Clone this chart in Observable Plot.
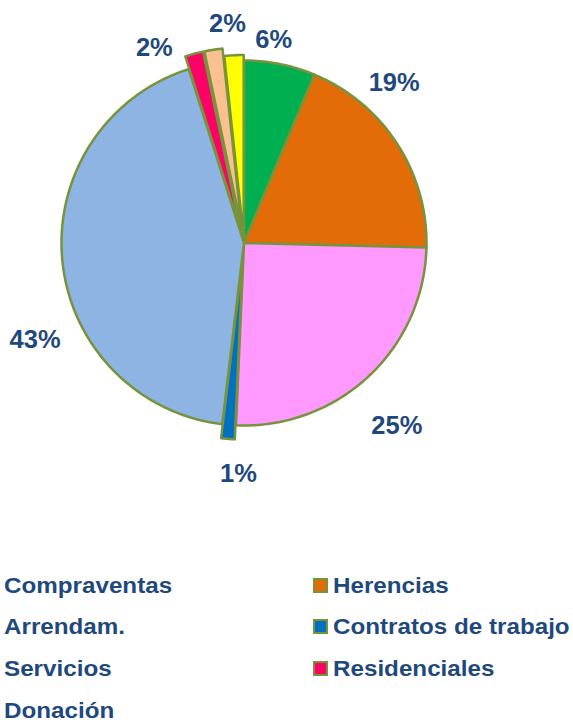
<!DOCTYPE html>
<html>
<head>
<meta charset="utf-8">
<script src="https://cdn.jsdelivr.net/npm/d3@7"></script>
<script src="https://cdn.jsdelivr.net/npm/@observablehq/plot@0.6"></script>
<style>
  html, body { margin: 0; padding: 0; background: #ffffff; }
  #chart svg { display: block; }
  #legend {
    position: relative;
    padding-top: 4.5px;
    font-family: "Liberation Sans", Arial, sans-serif;
    font-weight: bold;
    font-size: 22px;
    color: #1F497D;
  }
  .row { position: relative; height: 41.8px; line-height: 41.8px; white-space: nowrap; }
  .cell { position: absolute; top: 0; }
  .txt { display: inline-block; transform: scaleX(1.1); transform-origin: 0 50%; }
  .mk { display: inline-block; width: 11px; height: 11px; border: 2px solid #77933C; margin-right: 5px; vertical-align: baseline; }
</style>
</head>
<body>
<div id="chart"></div>
<div id="legend"></div>
<script>
// ---- data ----
const categories = ["Compraventas", "Herencias", "Arrendam.", "Contratos de trabajo", "Servicios", "Residenciales", "Donación", "Otros"];
const values = [6.3, 19.1, 25.3, 1.2, 43.2, 1.6, 1.6, 1.7];
const colors = ["#00B050", "#E36C09", "#FF99FF", "#0070C0", "#8EB4E3", "#FF0066", "#FAC090", "#FFFF00"];
const inLegend = [true, true, true, true, true, true, true, false];
const showLabel = [true, true, true, true, true, true, true, false];

// ---- layout ----
const W = 573, H = 560;
const CX = 243.5, CY = 242.5, R = 182.5;     // pie centre / radius in px
const explode = [0, 0, 0, 0.077, 0, 0.072, 0.072, 0.03];
const labelAngle = [8.3, 42.9, 139.9, 181.4, 245.3, 335.4, 355.7, 0];
const labelRadius = [1.131, 1.209, 1.300, 1.261, 1.260, 1.180, 1.212, 0];
const textColor = "#1F497D";
const edge = "#77933C";

const total = d3.sum(values);
let cum = 0;
const slices = values.map((v, i) => {
  const a0 = cum / total * 2 * Math.PI;
  cum += v;
  const a1 = cum / total * 2 * Math.PI;
  return {i, cat: categories[i], v, a0, a1};
});

// polygon points of each slice (unit-radius data space, y up)
const pts = [];
for (const s of slices) {
  const mid = (s.a0 + s.a1) / 2;
  const ox = explode[s.i] * Math.sin(mid), oy = explode[s.i] * Math.cos(mid);
  pts.push({cat: s.cat, x: ox, y: oy});
  const n = Math.max(4, Math.ceil((s.a1 - s.a0) / (Math.PI / 180)));
  for (let k = 0; k <= n; k++) {
    const a = s.a0 + (s.a1 - s.a0) * k / n;
    pts.push({cat: s.cat, x: ox + Math.sin(a), y: oy + Math.cos(a)});
  }
  pts.push({cat: s.cat, x: ox, y: oy});
}

const labels = slices.filter(s => showLabel[s.i]).map(s => {
  const a = labelAngle[s.i] * Math.PI / 180, r = labelRadius[s.i];
  return {x: r * Math.sin(a), y: r * Math.cos(a), text: Math.round(s.v / total * 100) + "%"};
});

const chart = Plot.plot({
  width: W, height: H,
  margin: 0,
  style: {background: "#ffffff", overflow: "visible"},
  x: {domain: [-CX / R, (W - CX) / R], axis: null},
  y: {domain: [-(H - CY) / R, CY / R], axis: null},
  color: {domain: categories, range: colors},
  marks: [
    Plot.line(pts, {x: "x", y: "y", z: "cat", fill: "cat", stroke: edge, strokeWidth: 2.5, strokeLinejoin: "round", curve: "linear"}),
    Plot.text(labels, {x: "x", y: "y", text: "text", fill: textColor, fontSize: 25.5, fontWeight: "bold",
      fontFamily: "'Liberation Sans', Arial, sans-serif", textAnchor: "middle", lineAnchor: "middle", dy: 1})
  ]
});
document.getElementById("chart").appendChild(chart);

// ---- legend (two columns, row-wise) ----
const legend = document.getElementById("legend");
const items = categories.map((c, i) => ({c, i})).filter(d => inLegend[d.i]);
for (let r = 0; r < Math.ceil(items.length / 2); r++) {
  const row = document.createElement("div");
  row.className = "row";
  for (let col = 0; col < 2; col++) {
    const it = items[r * 2 + col];
    if (!it) continue;
    const cell = document.createElement("span");
    cell.className = "cell";
    cell.style.left = col === 0 ? "4px" : "313px";
    if (col === 1) {
      const mk = document.createElement("span");
      mk.className = "mk";
      mk.style.background = colors[it.i];
      cell.appendChild(mk);
    }
    const t = document.createElement("span");
    t.className = "txt";
    t.textContent = it.c;
    cell.appendChild(t);
    row.appendChild(cell);
  }
  legend.appendChild(row);
}
</script>
</body>
</html>
